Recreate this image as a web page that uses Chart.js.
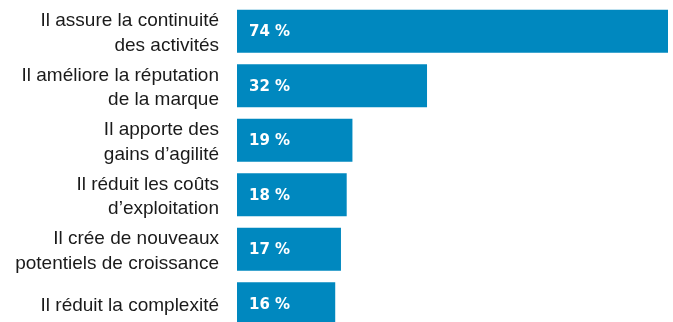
<!DOCTYPE html>
<html>
<head>
<meta charset="utf-8">
<script src="https://cdn.jsdelivr.net/npm/chart.js@4/dist/chart.umd.min.js"></script>
<style>
  html, body { margin: 0; padding: 0; background: #ffffff; overflow: hidden; }
  #wrap { position: absolute; left: 0; top: 0; width: 673px; height: 336px; }
</style>
</head>
<body>
<div id="wrap"><canvas id="c"></canvas></div>
<script>
const categories = [
  ["Il assure la continuité", "des activités"],
  ["Il améliore la réputation", "de la marque"],
  ["Il apporte des", "gains d’agilité"],
  ["Il réduit les coûts", "d’exploitation"],
  ["Il crée de nouveaux", "potentiels de croissance"],
  ["Il réduit la complexité"]
];
const values = [74, 32, 19, 18, 17, 16];
const valueLabels = ["74 %", "32 %", "19 %", "18 %", "17 %", "16 %"];

const BAR_COLOR = "#0088bf";
const AXIS_MIN = -1.12;

const valueLabelPlugin = {
  id: "valueLabels",
  afterDatasetsDraw(chart) {
    const ctx = chart.ctx;
    const meta = chart.getDatasetMeta(0);
    ctx.save();
    ctx.fillStyle = "#ffffff";
    ctx.textBaseline = "middle";
    ctx.textAlign = "left";
    meta.data.forEach((bar, i) => {
      ctx.font = "bold 15px 'DejaVu Sans'";
      const left = Math.min(bar.x, bar.base);
      ctx.fillText(valueLabels[i], left + 12, bar.y + 1);
    });
    ctx.restore();
  }
};

new Chart(document.getElementById("c"), {
  type: "bar",
  data: {
    labels: categories,
    datasets: [{
      data: values,
      base: AXIS_MIN,
      backgroundColor: BAR_COLOR,
      borderWidth: 0,
      categoryPercentage: 1,
      barPercentage: 0.79
    }]
  },
  options: {
    indexAxis: "y",
    responsive: true,
    maintainAspectRatio: false,
    animation: false,
    layout: { padding: { left: 0, right: 5, top: 4, bottom: 5 } },
    plugins: {
      legend: { display: false },
      tooltip: { enabled: false }
    },
    scales: {
      x: {
        display: false,
        min: AXIS_MIN,
        max: 74
      },
      y: {
        grid: { display: false, drawTicks: false },
        border: { display: false },
        ticks: {
          color: "#1a1a1a",
          padding: 18,
          labelOffset: 2,
          font: { family: "'Liberation Sans', Arial, sans-serif", size: 19, lineHeight: 1.3 }
        },
        afterFit(scale) {
          scale.width = 237;
          scale.paddingTop = 0;
          scale.paddingBottom = 0;
        }
      }
    }
  },
  plugins: [valueLabelPlugin]
});
</script>
</body>
</html>
